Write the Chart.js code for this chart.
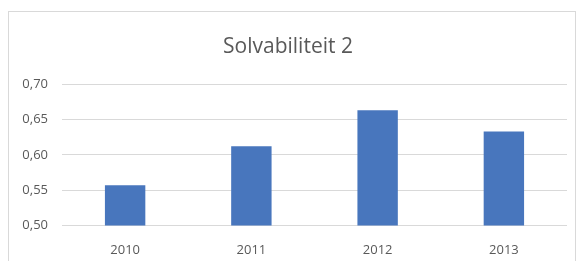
<!DOCTYPE html>
<html>
<head>
<meta charset="utf-8">
<script src="https://cdn.jsdelivr.net/npm/chart.js@4/dist/chart.umd.min.js"></script>
<style>
    html, body { margin: 0; padding: 0; background: #fff; overflow: hidden; }
    #box {
        position: absolute;
        left: 8px; top: 11px;
        width: 566px; height: 300px;
        border: 1px solid #d9d9d9;
    }
</style>
</head>
<body>
<div id="box"><canvas id="solvChart" width="566" height="265"></canvas></div>
<script>
// Chart data
const years = ['2010', '2011', '2012', '2013'];
const solvabiliteit = [0.557, 0.612, 0.663, 0.633];
const yTicks = [0.50, 0.55, 0.60, 0.65, 0.70];

const textColor = '#595959';

function createSolvChart() {
    const ctx = document.getElementById('solvChart');
    if (!ctx) return;

    new Chart(ctx, {
        type: 'bar',
        data: {
            labels: years,
            datasets: [{
                label: 'Solvabiliteit 2',
                data: solvabiliteit,
                backgroundColor: '#4876bd',
                borderWidth: 0,
                barPercentage: 0.32,
                categoryPercentage: 1
            }]
        },
        options: {
            responsive: false,
            animation: false,
            layout: {
                padding: { left: 0, right: 8, top: 0, bottom: 2 }
            },
            plugins: {
                legend: { display: false },
                tooltip: { enabled: false },
                title: {
                    display: true,
                    text: 'Solvabiliteit 2',
                    color: textColor,
                    font: { family: 'Open Sans', size: 21, weight: 'normal' },
                    padding: { top: 22, bottom: 25 }
                }
            },
            scales: {
                x: {
                    grid: { display: false, drawTicks: false },
                    border: { display: false },
                    ticks: {
                        color: textColor,
                        font: { family: 'Open Sans', size: 13 },
                        padding: 17
                    }
                },
                y: {
                    min: yTicks[0],
                    max: yTicks[yTicks.length - 1],
                    afterBuildTicks: function(scale) {
                        scale.ticks = yTicks.map(v => ({ value: v }));
                    },
                    afterFit: function(scale) {
                        scale.width = 53;
                    },
                    grid: { color: '#d9d9d9', drawTicks: false },
                    border: { display: false },
                    ticks: {
                        color: textColor,
                        font: { family: 'Open Sans', size: 13 },
                        padding: 14,
                        callback: v => v.toFixed(2).replace('.', ',')
                    }
                }
            }
        }
    });
}

createSolvChart();
</script>
</body>
</html>
